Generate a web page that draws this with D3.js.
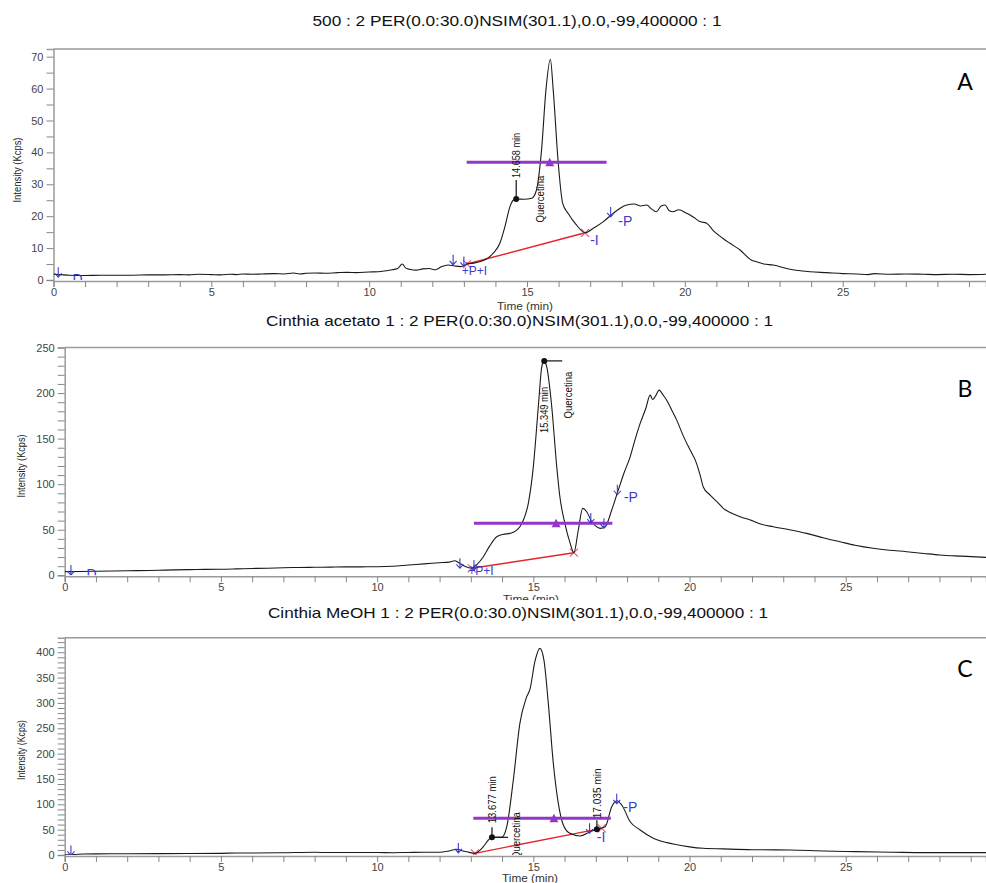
<!DOCTYPE html>
<html><head><meta charset="utf-8">
<script src="https://cdn.jsdelivr.net/npm/d3@7"></script>
<style>body{margin:0;background:#fff} svg{display:block}</style>
</head><body><svg id="c" width="986" height="883"></svg>
<script>
// ---------- DATA ----------
const titles = [
  "500 : 2 PER(0.0:30.0)NSIM(301.1),0.0,-99,400000 : 1",
  "Cinthia acetato 1 : 2 PER(0.0:30.0)NSIM(301.1),0.0,-99,400000 : 1",
  "Cinthia MeOH 1 : 2 PER(0.0:30.0)NSIM(301.1),0.0,-99,400000 : 1"
];
const panelLetters = ["A", "B", "C"];
const xLabel = "Time (min)";
const yLabel = "Intensity (Kcps)";
const compoundName = "Quercetina";

// [time (min), intensity (Kcps)]
const seriesA = [[0,1.8],[0.2,1.7],[0.5,1.5],[1,1.4],[1.5,1.5],[2,1.5],[2.5,1.5],[3,1.6],[3.5,1.6],[4,1.7],[4.3,1.6],[4.6,1.8],[5,1.7],[5.3,1.6],[5.6,1.8],[5.8,1.7],[6,1.9],[6.3,1.8],[6.6,1.9],[7,2.0],[7.3,1.9],[7.6,2.2],[7.8,1.9],[8,2.1],[8.3,2.2],[8.6,2.1],[9,2.3],[9.3,2.4],[9.6,2.3],[10,2.5],[10.3,2.6],[10.6,3.0],[10.9,3.6],[11.05,5.0],[11.15,3.8],[11.3,3.3],[11.5,3.1],[11.7,3.5],[11.9,3.6],[12.1,3.2],[12.3,4.2],[12.5,4.7],[12.7,4.4],[12.9,4.2],[13.1,5.0],[13.3,5.3],[13.5,5.7],[13.7,6.5],[13.93,8.4],[14.14,11.5],[14.3,16.7],[14.46,23],[14.56,25],[14.66,25.4],[14.9,25.3],[15.15,25.6],[15.3,28.2],[15.46,40.7],[15.6,59.6],[15.74,69.2],[15.83,59.6],[15.99,36.6],[16.13,24],[16.3,20.9],[16.57,17.2],[16.84,14.8],[17.1,16.2],[17.42,18.3],[17.73,20.9],[17.95,22.5],[18.16,23.5],[18.4,23.8],[18.6,23.2],[18.79,23.5],[18.95,22.2],[19.1,21.4],[19.25,23.2],[19.37,23.5],[19.5,21.8],[19.63,21.4],[19.8,22.0],[20.06,20.9],[20.3,19.5],[20.48,18.3],[20.69,17.8],[20.9,15.5],[21.2,13.1],[21.43,11.5],[21.75,9.4],[22.1,6.3],[22.27,5.7],[22.5,5.0],[22.8,4.7],[23.33,3.35],[23.6,3.0],[23.96,2.6],[24.5,2.3],[25,2.0],[25.44,1.9],[25.8,1.7],[26,2.0],[26.5,1.8],[27,1.9],[27.55,1.8],[28,1.7],[28.5,1.8],[29,1.7],[29.54,1.8]];

const seriesB = [[0,4],[0.5,4.2],[1,4.5],[2,5],[3,5.5],[3.5,6],[4,6.2],[4.5,6.5],[5,6.6],[5.5,7],[6,7.5],[6.5,7.8],[7,8.3],[7.5,8.6],[8,8.8],[8.5,9.0],[9,9.2],[9.5,9.3],[10,9.4],[10.5,10],[11,11.3],[11.5,12.5],[12,13.8],[12.3,14.5],[12.49,16],[12.6,14],[12.8,10],[13.03,7.7],[13.2,12],[13.4,20.4],[13.6,32],[13.83,42.3],[14.05,45],[14.25,46],[14.45,49],[14.57,53.3],[14.7,62],[14.84,79],[15.0,119],[15.16,185],[15.27,228.7],[15.34,235.3],[15.43,228.7],[15.59,185],[15.75,119],[15.85,86.2],[16.01,57],[16.18,35],[16.3,24.8],[16.44,49.7],[16.58,73.5],[16.71,69.7],[16.87,58.8],[17.0,54],[17.14,51.5],[17.3,53.3],[17.51,71.6],[17.72,93.5],[17.9,112],[18.1,130],[18.25,148],[18.42,166.7],[18.6,183],[18.74,197.7],[18.82,193],[18.9,196],[19.03,203.2],[19.15,198],[19.27,192.2],[19.45,180],[19.59,170.3],[19.8,153],[20.02,137.4],[20.2,125],[20.34,110],[20.44,97],[20.66,88],[20.9,80],[21.08,73.5],[21.3,69],[21.62,64.3],[22,60],[22.3,56],[22.68,53.3],[23.2,50],[23.75,46],[24.3,41],[24.82,36.8],[25.3,33],[25.88,29.6],[26.4,27.5],[26.95,25.9],[27.5,24],[28.02,22.3],[28.7,21],[29.49,19.7]];

const seriesC = [[0,0.5],[0.3,1],[0.6,2],[1,2.3],[2,2.5],[3,2.8],[4,3],[5,3.3],[5.5,4],[6,4],[7,4.5],[8,5.3],[8.5,4.8],[9,5],[10,5],[10.5,4.5],[11,5],[11.5,5.5],[12,5.5],[12.3,8],[12.55,11.2],[12.75,8],[12.87,6.5],[13.13,3.3],[13.4,16.4],[13.56,29.6],[13.67,34.9],[13.99,34.9],[14.15,55.8],[14.36,148],[14.57,259.8],[14.77,309],[14.9,328.8],[15.05,381.3],[15.21,407.7],[15.34,384.6],[15.48,299.2],[15.64,180.9],[15.8,102],[15.96,59.2],[16.17,42.8],[16.5,37.5],[16.82,46],[17.03,50.7],[17.3,55.8],[17.51,95.3],[17.67,107],[17.83,98.6],[18.1,65.7],[18.42,49.3],[18.84,32.9],[19.48,21.7],[20.0,16],[20.44,13.2],[21.08,12],[22,10.5],[23.2,9.9],[24.3,8],[25.35,6.6],[26.5,5.5],[27.5,4.6],[29.49,4.6]];

// purple bar: [t start, t end, level, triangle t]
const purpleBars = [[13.09,17.52,36.9,15.72],[13.1,17.53,57,15.73],[13.08,17.48,72.3,15.66]];
// red integration baseline: [t0, v0, t1, v1]
const redBaselines = [[13.1,5.0,16.84,14.8],[13.03,7.7,16.3,24.8],[13.13,3.3,17.19,52.6]];
// retention time marks: [t, v, label]
const rtMarksA = [[14.658,25.4,"14.658 min"]];
const rtMarksB = [[15.349,235.3,"15.349 min"]];
const rtMarksC = [[13.677,34.9,"13.677 min"],[17.035,50.7,"17.035 min"]];
// compound label anchor [t, v]
const compoundPos = [[15.41,18],[16.12,172],[14.47,-8]];
// blue peak markers: [t, v, kind/text]
const blueA = [[0.15,1.8,"arrow"],[12.66,5.7,"arrow"],[13.0,5.2,"arrow"],[12.93,1.6,"+P+I"],[17.0,11,"-I"],[17.65,20.7,"arrow"],[17.89,16.9,"-P"],[0.6,-1.2,"D"]];
const blueB = [[0.2,3.5,"arrow"],[12.65,11,"arrow"],[13.1,9,"arrow"],[12.92,0.3,"+P+I"],[16.84,60.6,"arrow"],[17.26,55,"arrow"],[17.69,91.7,"arrow"],[17.9,80,"-P"],[0.7,-4,"D"]];
const blueC = [[0.2,5,"arrow"],[12.6,10,"arrow"],[16.8,49,"arrow"],[17.03,25.6,"-I"],[17.67,107,"arrow"],[17.88,85,"-P"]];

// ---------- LAYOUT ----------
const W = 986;
const panels = [
  {title: titles[0], letter: panelLetters[0], series: seriesA, rt: rtMarksA, blue: blueA,
   left: 53.5, top: 49, bottom: 280, xMax: 29.54, yMax: 72.4, yMinor: 5, yMajor: 10,
   titleX: 517, titleY: 26, titleLen: 409, letterY: 90,
   yLabX: 17, yLabY: 170, yLabLen: 65, tLabX: 525, tLabY: 310, tLabSize: 10.5,
   rtLayout: [{stemUp: 19, textGap: 21, len: 45}]},
  {title: titles[1], letter: panelLetters[1], series: seriesB, rt: rtMarksB, blue: blueB,
   left: 64.7, top: 347.5, bottom: 575.3, xMax: 29.49, yMax: 250, yMinor: 10, yMajor: 50,
   titleX: 519.5, titleY: 326, titleLen: 507, letterY: 397,
   yLabX: 21, yLabY: 466, yLabLen: 63, tLabX: 531, tLabY: 602.8, tLabSize: 10,
   rtLayout: [{stemRight: 18, textGap: -72, len: 46}]},
  {title: titles[2], letter: panelLetters[2], series: seriesC, rt: rtMarksC, blue: blueC,
   left: 64.7, top: 637.7, bottom: 855, xMax: 29.49, yMax: 428.7, yMinor: 10, yMajor: 50,
   titleX: 518, titleY: 618, titleLen: 500, letterY: 677,
   yLabX: 21, yLabY: 750, yLabLen: 60, tLabX: 530, tLabY: 882, tLabSize: 10.5,
   rtLayout: [{stemUp: 10, stemRight: 16, textGap: 14, len: 47}, {stemUp: 9, textGap: 11, len: 50}]}
];

const svg = d3.select("#c");
svg.append("rect").attr("width", W).attr("height", 883).attr("fill", "#fff");
const PURPLE = "#9237c8", RED = "#e3262b", BLUE = "#3b3bcc", GRID = "#9a9a9a";
const narrow = "'Liberation Sans Narrow','Arial Narrow','Liberation Sans',sans-serif";

panels.forEach((p, i) => {
  const g = svg.append("g");
  if (i === 2) {
    // panel C image covers the bottom of B
    g.append("rect").attr("x", 0).attr("y", 600).attr("width", W).attr("height", 283).attr("fill", "#fff");
  }
  const x = d3.scaleLinear().domain([0, p.xMax]).range([p.left, W]);
  const y = d3.scaleLinear().domain([0, p.yMax]).range([p.bottom, p.top]);

  // title
  g.append("text").attr("x", p.titleX).attr("y", p.titleY).attr("text-anchor", "middle")
    .attr("font-family", "'Liberation Sans',Arial,sans-serif").attr("font-size", 14.5).attr("fill", "#111")
    .attr("textLength", p.titleLen).attr("lengthAdjust", "spacingAndGlyphs").text(p.title);

  // frame top
  g.append("line").attr("x1", p.left).attr("x2", W).attr("y1", p.top).attr("y2", p.top)
    .attr("stroke", GRID).attr("stroke-width", 1.5);

  // axes
  const yTicks = d3.range(0, p.yMax + 0.001, p.yMinor);
  const ya = d3.axisLeft(y).tickValues(yTicks).tickSize(7).tickPadding(3)
    .tickFormat(d => (Math.round(d) % p.yMajor === 0) ? d3.format("d")(d) : "");
  const yg = g.append("g").attr("transform", `translate(${p.left},0)`).call(ya);
  const xTicks = d3.range(0, Math.floor(p.xMax) + 1, 1);
  const xa = d3.axisBottom(x).tickValues(xTicks).tickSize(6).tickPadding(1)
    .tickFormat(d => d % 5 === 0 ? d : "");
  const xg = g.append("g").attr("transform", `translate(0,${p.bottom + 1})`).call(xa);
  [yg, xg].forEach(a => {
    a.select(".domain").attr("stroke", GRID).attr("stroke-width", 1.5);
    a.selectAll(".tick line").attr("stroke", "#888");
    a.selectAll(".tick text").attr("font-family", "'Liberation Sans',Arial,sans-serif")
      .attr("font-size", 11).attr("fill", "#444");
  });

  // axis labels
  g.append("text").attr("transform", `translate(${p.yLabX},${p.yLabY}) rotate(-90)`)
    .attr("text-anchor", "middle").attr("dy", "0.35em").attr("font-family", narrow)
    .attr("font-size", 11).attr("fill", "#222").attr("textLength", p.yLabLen)
    .attr("lengthAdjust", "spacingAndGlyphs").text(yLabel);
  g.append("text").attr("x", p.tLabX).attr("y", p.tLabY).attr("text-anchor", "middle")
    .attr("font-family", "'Liberation Sans',Arial,sans-serif").attr("font-size", p.tLabSize)
    .attr("fill", "#333").attr("textLength", 56).attr("lengthAdjust", "spacingAndGlyphs").text(xLabel);

  // clip to plot area
  const cid = "clip" + i;
  g.append("clipPath").attr("id", cid).append("rect")
    .attr("x", p.left).attr("y", p.top).attr("width", W - p.left).attr("height", p.bottom - p.top);
  const pg = g.append("g").attr("clip-path", `url(#${cid})`);

  // red baseline
  const rb = redBaselines[i];
  pg.append("line").attr("x1", x(rb[0])).attr("y1", y(rb[1])).attr("x2", x(rb[2])).attr("y2", y(rb[3]))
    .attr("stroke", RED).attr("stroke-width", 1.4);
  [[rb[0], rb[1]], [rb[2], rb[3]]].forEach(([t, v]) => {
    const cx = x(t), cy = y(v);
    pg.append("path").attr("d", `M${cx-4},${cy-4}L${cx+4},${cy+4}M${cx-4},${cy+4}L${cx+4},${cy-4}`)
      .attr("stroke", "#e0557a").attr("stroke-width", 1.1);
  });

  // chromatogram
  pg.append("path").datum(p.series)
    .attr("d", d3.line().x(d => x(d[0])).y(d => y(d[1])).curve(d3.curveMonotoneX))
    .attr("fill", "none").attr("stroke", "#1a1a1a").attr("stroke-width", 1.1);

  // purple bar
  const pb = purpleBars[i];
  pg.append("line").attr("x1", x(pb[0])).attr("x2", x(pb[1])).attr("y1", y(pb[2])).attr("y2", y(pb[2]))
    .attr("stroke", PURPLE).attr("stroke-width", 3);
  const tx = x(pb[3]), ty = y(pb[2]);
  pg.append("path").attr("d", `M${tx-4.5},${ty+4}L${tx+4.5},${ty+4}L${tx},${ty-4.5}Z`).attr("fill", PURPLE);

  // blue markers
  p.blue.forEach(([t, v, k]) => {
    const bx = x(t), by = y(v);
    if (k === "arrow") {
      pg.append("path").attr("d", `M${bx},${by-7}L${bx},${by+3}M${bx-3.5},${by-1}L${bx},${by+3}L${bx+3.5},${by-1}`)
        .attr("stroke", BLUE).attr("stroke-width", 1.1).attr("fill", "none");
    } else {
      pg.append("text").attr("x", bx).attr("y", by).attr("font-family", "'Liberation Sans',Arial,sans-serif")
        .attr("font-size", k.length > 2 ? 12 : 14).attr("fill", BLUE).text(k);
    }
  });

  // RT marks
  p.rt.forEach(([t, v, label], j) => {
    const L = p.rtLayout[j];
    const dx = x(t), dy = y(v);
    if (L.stemUp) g.append("line").attr("x1", dx).attr("x2", dx).attr("y1", dy).attr("y2", dy - L.stemUp)
      .attr("stroke", "#111").attr("stroke-width", 1.2);
    if (L.stemRight) g.append("line").attr("x1", dx).attr("x2", dx + L.stemRight).attr("y1", dy).attr("y2", dy)
      .attr("stroke", "#111").attr("stroke-width", 1.2);
    g.append("circle").attr("cx", dx).attr("cy", dy).attr("r", 3).attr("fill", "#111");
    g.append("text").attr("transform", `translate(${dx},${dy - L.textGap}) rotate(-90)`)
      .attr("dy", "0.35em").attr("font-family", narrow).attr("font-size", 10.5).attr("fill", "#111")
      .attr("textLength", L.len).attr("lengthAdjust", "spacingAndGlyphs").text(label);
  });

  // compound label
  const cp = compoundPos[i];
  pg.append("text").attr("transform", `translate(${x(cp[0])},${y(cp[1])}) rotate(-90)`)
    .attr("dy", "0.35em").attr("font-family", narrow).attr("font-size", 10.5).attr("fill", "#111")
    .attr("textLength", 47).attr("lengthAdjust", "spacingAndGlyphs").text(compoundName);

  // panel letter
  g.append("text").attr("x", 965).attr("y", p.letterY).attr("text-anchor", "middle")
    .attr("font-family", "Lato,'Open Sans',sans-serif").attr("font-size", 23).attr("fill", "#000")
    .text(p.letter);
});
</script>
</body></html>
